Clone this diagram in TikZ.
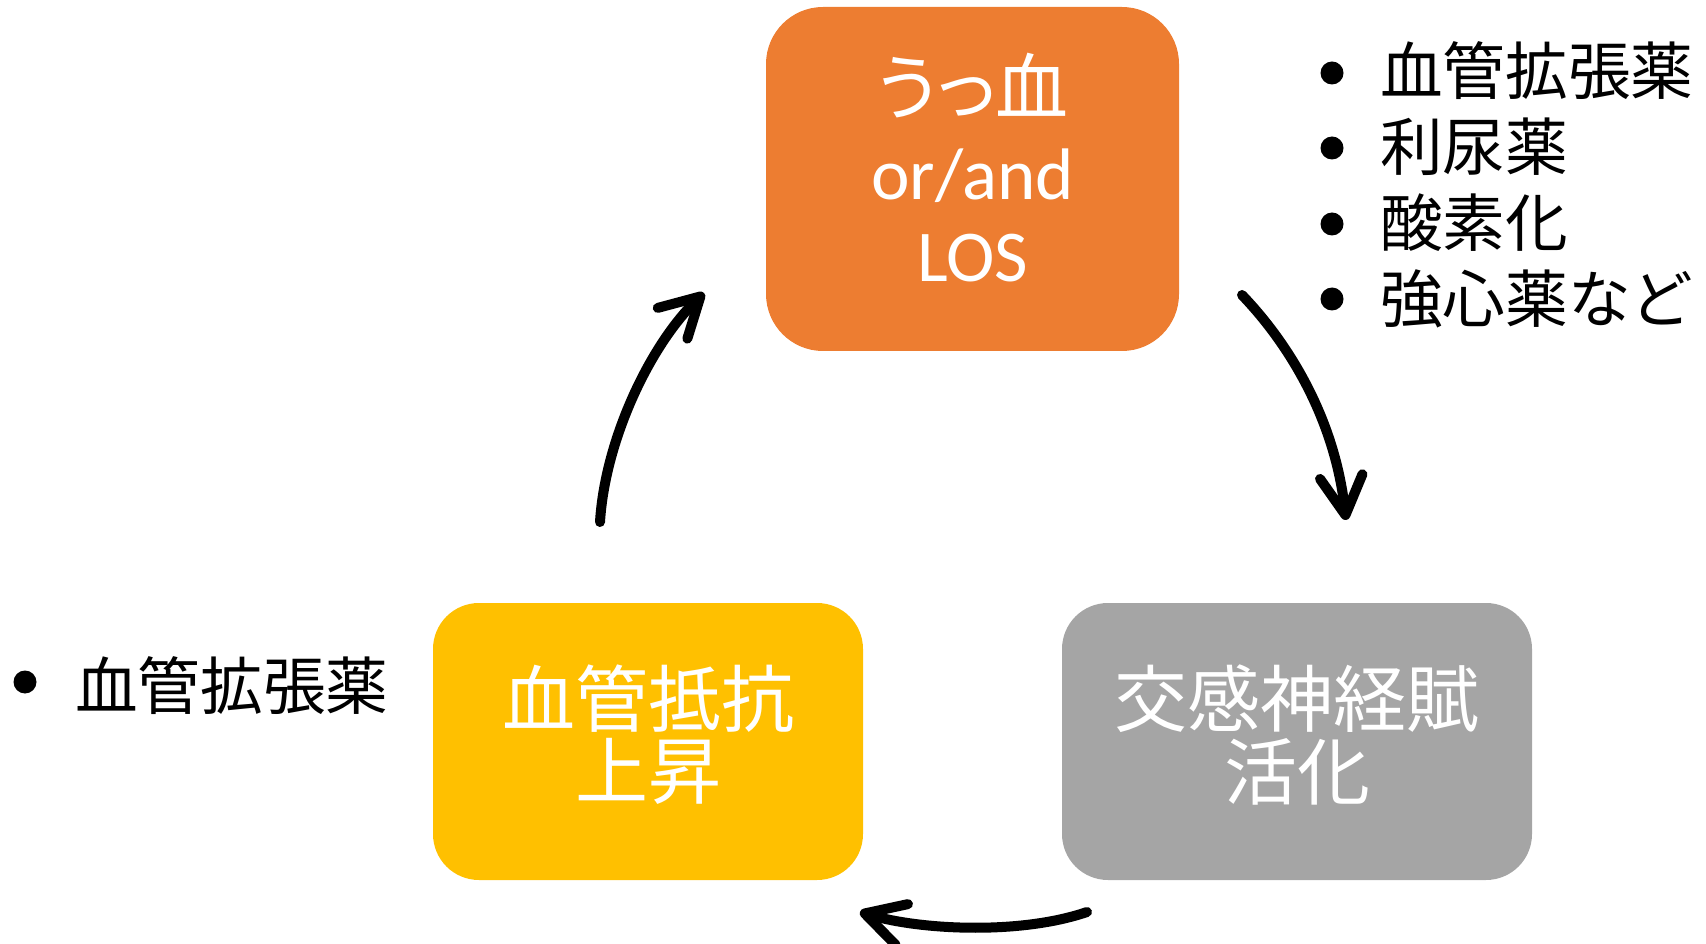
\documentclass[tikz,border=0pt]{standalone}
\usepackage{fontspec}
\setmainfont{Carlito}
\newfontfamily\jp{Noto Sans CJK JP}
\newfontfamily\jpprop[RawFeature=+palt]{Noto Sans CJK JP}
\usetikzlibrary{arrows.meta}
\definecolor{boxorange}{HTML}{ED7D31}
\definecolor{boxyellow}{HTML}{FFC000}
\definecolor{boxgray}{HTML}{A5A5A5}
\begin{document}
\begin{tikzpicture}[x=0.75pt,y=-0.75pt,
  box/.style={rectangle, inner sep=0pt, draw=none},
  boxtext/.style={anchor=base, inner sep=0pt, text=white, font=\jp\fontsize{54.75}{54.75}\selectfont},
  latintext/.style={anchor=base, inner sep=0pt, text=white, font=\fontsize{54.75}{54.75}\selectfont},
  listtext/.style={anchor=base west, inner sep=0pt, font=\jp\fontsize{47}{47}\selectfont},
  bulletdot/.style={circle, fill=black, inner sep=0pt, minimum size=17.25pt},
  cyclearrow/.style={line width=7.5pt, line cap=round, -{Straight Barb[length=29pt,width=32pt,round]}}]
\useasboundingbox (0,0) rectangle (1706,944);
% boxes
\node[box, fill=boxorange, rounded corners=42.75pt, minimum width=309.75pt, minimum height=258pt] (cong) at (972.5,179) {};
\node[box, fill=boxyellow, rounded corners=34.5pt, minimum width=322.5pt, minimum height=207.75pt] (resist) at (648,741.5) {};
\node[box, fill=boxgray, rounded corners=34.5pt, minimum width=352.5pt, minimum height=207.75pt] (symp) at (1297,741.5) {};
% box texts
\node[boxtext, font=\jpprop\fontsize{54.75}{54.75}\selectfont] (cong1) at (972.5,115) {うっ血};
\node[latintext] (cong2) at (972.5,200) {or/and};
\node[latintext] (cong3) at (972.5,282) {LOS};
\node[boxtext] (resist1) at (648,726) {血管抵抗};
\node[boxtext] (resist2) at (648,798) {上昇};
\node[boxtext] (symp1) at (1297,726) {交感神経賦};
\node[boxtext] (symp2) at (1297,799) {活化};
% right list
\node[bulletdot] (rb1) at (1332,73) {};
\node[bulletdot] (rb2) at (1332,148) {};
\node[bulletdot] (rb3) at (1332,224) {};
\node[bulletdot] (rb4) at (1332,299) {};
\node[listtext] (rt1) at (1380,95) {血管拡張薬};
\node[listtext] (rt2) at (1380,171) {利尿薬};
\node[listtext] (rt3) at (1380,247) {酸素化};
\node[listtext] (rt4) at (1380,323) {強心薬など};
% left list
\node[bulletdot] (lb1) at (25,682) {};
\node[listtext] (lt1) at (75,709) {血管拡張薬};
% arrows
\coordinate (a1s) at (600,522);
\coordinate (a1e) at (704,293);
\coordinate (a2s) at (1242,295);
\coordinate (a2e) at (1346,520);
\coordinate (a3s) at (1087,912);
\coordinate (a3e) at (860,912);
\draw[cyclearrow] (a1s) .. controls (605,440) and (650,345) .. (a1e);
\draw[cyclearrow] (a2s) .. controls (1290,345) and (1335,420) .. (a2e);
\draw[cyclearrow] (a3s) .. controls (1020,935) and (920,930) .. (a3e);
\end{tikzpicture}
\end{document}
